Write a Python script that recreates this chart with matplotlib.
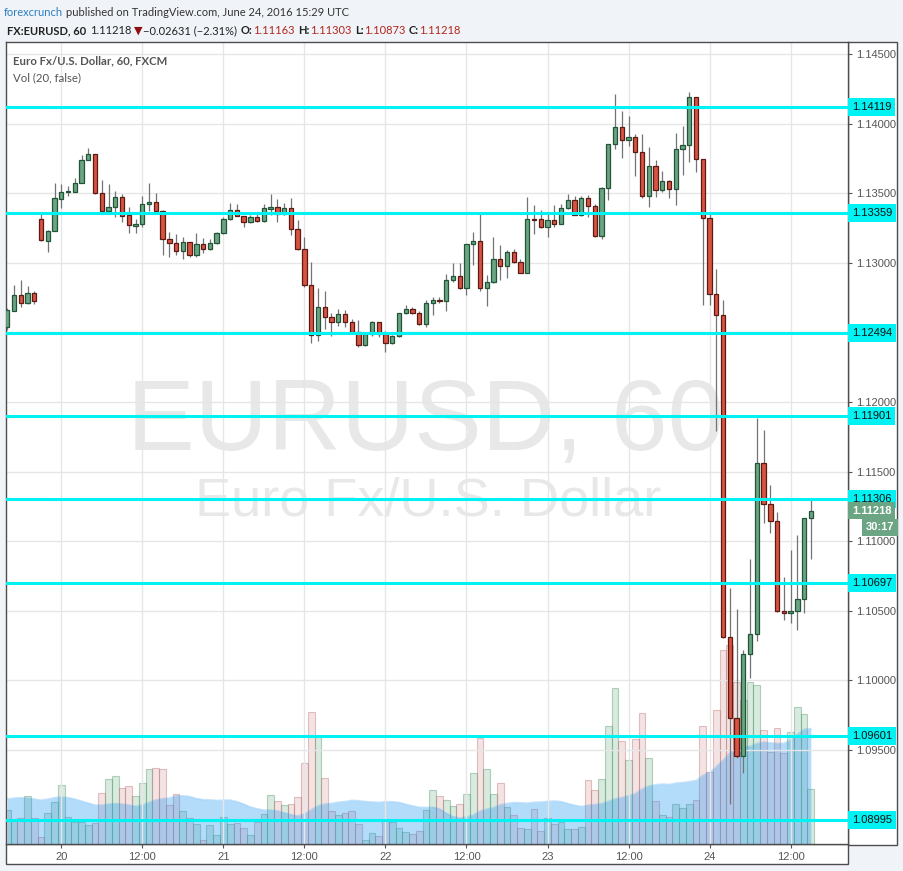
import matplotlib
matplotlib.use("Agg")
import matplotlib.pyplot as plt
import matplotlib.transforms as mtransforms
from matplotlib.patches import Rectangle
import numpy as np
import pandas as pd

# EURUSD hourly candles (FXCM), last hours of 17 Jun .. 24 Jun 2016 15:00 UTC
opens = [1.12541, 1.12656, 1.12768, 1.12713, 1.12781, 1.13312, 1.13159, 1.13226, 1.13460, 1.13506,
         1.13510, 1.13571, 1.13736, 1.13779, 1.13499, 1.13374, 1.13398, 1.13470, 1.13341, 1.13266,
         1.13277, 1.13420, 1.13435, 1.13374, 1.13168, 1.13139, 1.13082, 1.13146, 1.13054, 1.13133,
         1.13096, 1.13139, 1.13212, 1.13312, 1.13377, 1.13334, 1.13291, 1.13327, 1.13298, 1.13389,
         1.13398, 1.13348, 1.13392, 1.13240, 1.13096, 1.12838, 1.12479, 1.12679, 1.12608, 1.12577,
         1.12632, 1.12572, 1.12505, 1.12412, 1.12486, 1.12572, 1.12486, 1.12421, 1.12474, 1.12637,
         1.12666, 1.12637, 1.12562, 1.12708, 1.12730, 1.12723, 1.12874, 1.12903, 1.12817, 1.13133,
         1.13155, 1.12817, 1.12860, 1.13025, 1.12975, 1.13075, 1.13006, 1.12928, 1.13312, 1.13312,
         1.13255, 1.13305, 1.13277, 1.13392, 1.13449, 1.13341, 1.13463, 1.13406, 1.13190, 1.13535,
         1.13851, 1.13973, 1.13884, 1.13901, 1.13793, 1.13482, 1.13693, 1.13524, 1.13585, 1.13532,
         1.13815, 1.13849, 1.14189, 1.13743, 1.13319, 1.12774, 1.12623, 1.10313, 1.09729, 1.09458,
         1.10187, 1.10332, 1.11559, 1.11265, 1.11146, 1.10500, 1.10486, 1.10500, 1.10582, 1.11163]
highs = [1.12675, 1.12840, 1.12876, 1.12835, 1.12799, 1.13350, 1.13236, 1.13575, 1.13566, 1.13552,
         1.13611, 1.13774, 1.13825, 1.13782, 1.13595, 1.13566, 1.13516, 1.13494, 1.13401, 1.13317,
         1.13480, 1.13575, 1.13504, 1.13376, 1.13221, 1.13206, 1.13183, 1.13148, 1.13212, 1.13178,
         1.13168, 1.13221, 1.13327, 1.13432, 1.13421, 1.13336, 1.13341, 1.13348, 1.13421, 1.13494,
         1.13456, 1.13430, 1.13463, 1.13307, 1.13184, 1.13008, 1.12817, 1.12797, 1.12637, 1.12666,
         1.12661, 1.12596, 1.12589, 1.12505, 1.12583, 1.12574, 1.12510, 1.12481, 1.12640, 1.12695,
         1.12679, 1.12651, 1.12733, 1.12752, 1.12752, 1.12919, 1.12998, 1.12998, 1.13135, 1.13221,
         1.13350, 1.12910, 1.13184, 1.13128, 1.13089, 1.13096, 1.13029, 1.13473, 1.13416, 1.13379,
         1.13350, 1.13416, 1.13421, 1.13494, 1.13480, 1.13480, 1.13487, 1.13421, 1.13542, 1.13851,
         1.14213, 1.14090, 1.14055, 1.13925, 1.13925, 1.13832, 1.13738, 1.13657, 1.13595, 1.13935,
         1.13983, 1.14227, 1.14192, 1.13745, 1.13350, 1.12953, 1.12732, 1.10661, 1.10510, 1.10218,
         1.10870, 1.11882, 1.11798, 1.11403, 1.11209, 1.10744, 1.10936, 1.11044, 1.11169, 1.11303]
lows = [1.12517, 1.12654, 1.12684, 1.12704, 1.12704, 1.13158, 1.13080, 1.13226, 1.13393, 1.13482,
        1.13510, 1.13571, 1.13736, 1.13495, 1.13374, 1.13374, 1.13331, 1.13295, 1.13216, 1.13216,
        1.13255, 1.13374, 1.13370, 1.13058, 1.13044, 1.13054, 1.13025, 1.13044, 1.13040, 1.13068,
        1.13089, 1.13137, 1.13210, 1.13305, 1.13334, 1.13255, 1.13289, 1.13291, 1.13296, 1.13346,
        1.13291, 1.13346, 1.13202, 1.13093, 1.12828, 1.12426, 1.12435, 1.12524, 1.12477, 1.12548,
        1.12535, 1.12502, 1.12397, 1.12404, 1.12477, 1.12469, 1.12361, 1.12417, 1.12469, 1.12635,
        1.12630, 1.12555, 1.12535, 1.12623, 1.12708, 1.12656, 1.12860, 1.12809, 1.12768, 1.12983,
        1.12795, 1.12692, 1.12852, 1.12879, 1.12893, 1.12996, 1.12925, 1.12925, 1.13205, 1.13252,
        1.13183, 1.13255, 1.13275, 1.13384, 1.13340, 1.13339, 1.13327, 1.13183, 1.13168, 1.13451,
        1.13817, 1.13753, 1.13841, 1.13622, 1.13468, 1.13403, 1.13475, 1.13510, 1.13468, 1.13417,
        1.13633, 1.13726, 1.13654, 1.12699, 1.12699, 1.11793, 1.10302, 1.09111, 1.09445, 1.09334,
        1.10014, 1.10285, 1.11132, 1.11061, 1.10493, 1.10434, 1.10409, 1.10364, 1.10481, 1.10873]
closes = [1.12661, 1.12768, 1.12713, 1.12781, 1.12728, 1.13161, 1.13229, 1.13463, 1.13506, 1.13516,
          1.13571, 1.13738, 1.13779, 1.13499, 1.13374, 1.13398, 1.13470, 1.13338, 1.13269, 1.13277,
          1.13421, 1.13435, 1.13374, 1.13168, 1.13139, 1.13082, 1.13146, 1.13054, 1.13133, 1.13096,
          1.13139, 1.13212, 1.13312, 1.13377, 1.13334, 1.13291, 1.13327, 1.13298, 1.13392, 1.13398,
          1.13348, 1.13392, 1.13240, 1.13096, 1.12838, 1.12479, 1.12679, 1.12608, 1.12577, 1.12632,
          1.12572, 1.12505, 1.12412, 1.12486, 1.12572, 1.12486, 1.12421, 1.12474, 1.12637, 1.12666,
          1.12637, 1.12562, 1.12708, 1.12730, 1.12723, 1.12876, 1.12903, 1.12817, 1.13133, 1.13155,
          1.12817, 1.12860, 1.13025, 1.12975, 1.13075, 1.13006, 1.12928, 1.13312, 1.13310, 1.13255,
          1.13305, 1.13277, 1.13392, 1.13449, 1.13341, 1.13463, 1.13406, 1.13190, 1.13535, 1.13851,
          1.13973, 1.13884, 1.13901, 1.13793, 1.13482, 1.13693, 1.13524, 1.13585, 1.13532, 1.13815,
          1.13849, 1.14189, 1.13743, 1.13319, 1.12774, 1.12623, 1.10313, 1.09729, 1.09458, 1.10187,
          1.10332, 1.11559, 1.11265, 1.11146, 1.10500, 1.10486, 1.10500, 1.10582, 1.11163, 1.11218]

# tick volume (relative units)
volume = [34, 23, 26, 48, 26, 7, 31, 42, 59, 27, 22, 22, 19, 21, 51, 65, 68, 56, 58, 48,
          61, 75, 76, 75, 39, 50, 33, 26, 20, 4, 19, 9, 27, 20, 21, 16, 9, 22, 30, 49,
          43, 39, 40, 47, 81, 132, 107, 66, 33, 29, 31, 33, 20, 4, 11, 8, 23, 22, 16, 12,
          10, 13, 34, 54, 48, 44, 38, 40, 50, 71, 106, 75, 50, 61, 37, 29, 16, 15, 35, 13,
          26, 20, 22, 15, 15, 17, 64, 54, 65, 118, 156, 103, 84, 105, 131, 86, 43, 29, 27, 40,
          36, 40, 44, 118, 72, 134, 194, 199, 162, 144, 162, 159, 114, 92, 116, 91, 112, 137, 130, 55]
# Vol MA(20) for the first bars, whose history is left of the chart
vol_ma_head = [45, 46, 46.5, 46, 45, 44, 45, 46.5, 47, 46.5, 45, 43, 41, 39, 39, 40, 40.5, 40, 39]

levels = [1.14119, 1.13359, 1.12494, 1.11901, 1.11306, 1.10697, 1.09601, 1.08995]
price_ticks = [1.095, 1.100, 1.105, 1.110, 1.115, 1.120, 1.125, 1.130, 1.135, 1.140, 1.145]
hidden_ticks = [1.125]  # label covered by the 1.12494 level tag
time_ticks = [8, 20, 32, 44, 56, 68, 80, 92, 104, 116]
time_labels = ["20", "12:00", "21", "12:00", "22", "12:00", "23", "12:00", "24", "12:00"]
last_price = 1.11218
countdown = "30:17"

W, H = 904, 871
fig = plt.figure(figsize=(W / 100, H / 100), dpi=100, facecolor="#f0f3f7")


def fig_rect(x0, y0, x1, y1):
    return [x0 / W, 1 - y1 / H, (x1 - x0) / W, (y1 - y0) / H]


frame = "#4d4d4d"
for r in [fig_rect(848, 42, 897, 845), fig_rect(6, 844, 848, 864)]:
    fig.add_artist(Rectangle((r[0], r[1]), r[2], r[3], transform=fig.transFigure,
                             facecolor="white", edgecolor=frame, lw=1, zorder=-5))

rect = fig_rect(6, 42, 848, 844)
ax_vol = fig.add_axes(rect)
ax = fig.add_axes(rect, sharex=ax_vol)
ax.patch.set_visible(False)

x = np.arange(len(opens))
o = np.array(opens)
h = np.array(highs)
l = np.array(lows)
c = np.array(closes)
v = np.array(volume, dtype=float)
up = c >= o

# volume pane
ma = pd.Series(v).rolling(20).mean().to_numpy()
ma[:len(vol_ma_head)] = vol_ma_head
ax_vol.bar(x[up], v[up], width=1.0, color=(0.42, 0.68, 0.50, 0.25),
           edgecolor=(0.30, 0.58, 0.40, 0.40), lw=0.8)
ax_vol.bar(x[~up], v[~up], width=1.0, color=(0.82, 0.55, 0.55, 0.24),
           edgecolor=(0.72, 0.42, 0.42, 0.40), lw=0.8)
ax_vol.fill_between(x, 0, ma, color="#2196f3", alpha=0.34, lw=0)
ax_vol.plot(x, ma, color="#2196f3", alpha=0.25, lw=1)
ax_vol.set_ylim(0, 802)
ax_vol.set_facecolor("white")
ax_vol.set_yticks([])
ax_vol.tick_params(axis="x", bottom=False, labelbottom=False)
for s in ax_vol.spines.values():
    s.set_visible(False)

# watermark
ax_vol.text(0.498, 0.491, "EURUSD, 60", transform=ax_vol.transAxes, ha="center", va="baseline",
            fontsize=73, color="#e8e8e8", family="Liberation Sans", zorder=0)
ax_vol.text(0.501, 0.410, "Euro Fx/U.S. Dollar", transform=ax_vol.transAxes, ha="center",
            va="baseline", fontsize=39, color="#e8e8e8", family="Liberation Sans", zorder=0)

# candles
ax.vlines(x, l, h, color="#737375", lw=0.9, zorder=3)
body = np.maximum(np.abs(c - o), 0.00002)
bottom = np.minimum(o, c)
ax.bar(x[up], body[up], bottom=bottom[up], width=0.64, color="#6ba583",
       edgecolor="#225437", lw=0.9, zorder=4)
ax.bar(x[~up], body[~up], bottom=bottom[~up], width=0.64, color="#d75442",
       edgecolor="#5b1a13", lw=0.9, zorder=4)

ax.set_xlim(-0.19, 124.5)
ax.set_ylim(1.08824, 1.14586)
ax.set_yticks(price_ticks, ["" if t in hidden_ticks else f"{t:.5f}" for t in price_ticks])
ax.set_xticks(time_ticks, time_labels)
ax.yaxis.tick_right()
ax.grid(True, color="#e6e6e6", lw=1)
ax.tick_params(axis="y", length=3, pad=2.5, labelsize=8, colors="#555555")
ax.tick_params(axis="x", length=3, pad=2.5, labelsize=8, colors="#555555")
for lab in ax.get_xticklabels() + ax.get_yticklabels():
    lab.set_family("Liberation Sans")
for s in ax.spines.values():
    s.set_color(frame)
    s.set_linewidth(1)

# horizontal levels
blend = mtransforms.blended_transform_factory(ax.transAxes, ax.transData)
for lvl in levels:
    ax.axhline(lvl, color="#00f2f2", lw=2.2, zorder=6)
    ax.text(1.0048, lvl, f"{lvl:.5f}", transform=blend, ha="left", va="center", fontsize=8,
            color="#111111", family="Liberation Sans", zorder=7,
            bbox=dict(boxstyle="square,pad=0.36", fc="#00f2f2", ec="none"))

ax.text(1.0048, last_price, f"{last_price:.5f}", transform=blend, ha="left", va="center",
        fontsize=8, color="white", fontweight="bold", family="Liberation Sans", zorder=8,
        bbox=dict(boxstyle="square,pad=0.32", fc="#6ba583", ec="none"))
ax.annotate(countdown, xy=(1.0546, last_price), xycoords=blend, xytext=(0, -12),
            textcoords="offset points", ha="right", va="center", fontsize=8, color="white",
            fontweight="bold", family="Liberation Sans", zorder=8,
            bbox=dict(boxstyle="square,pad=0.32", fc="#6ba583", ec="none"))

# header lines
renderer = fig.canvas.get_renderer()


def write_line(x_px, y_px, parts, size):
    xp = x_px
    for text, color, weight, gap in parts:
        t = fig.text(xp / W, 1 - y_px / H, text, color=color, fontweight=weight, fontsize=size,
                     family=["Lato", "DejaVu Sans"], va="center", ha="left")
        xp += t.get_window_extent(renderer).width + gap


red = "#b3261e"
dark = "#222222"
write_line(3.5, 12.5, [("forexcrunch", "#2a7fc1", "normal", 3),
                       ("published on TradingView.com, June 24, 2016 15:29 UTC", "#333333", "normal", 0)], 8.0)
write_line(7, 30.5, [("FX:EURUSD, 60", dark, "bold", 4), ("1.11218", dark, "normal", 2),
                     ("\u25bc", "#8f1010", "normal", 1), ("\u22120.02631 (\u22122.31%)", dark, "normal", 4),
                     ("O:", dark, "bold", 0), ("1.11163", red, "normal", 4),
                     ("H:", dark, "bold", 0), ("1.11303", red, "normal", 4),
                     ("L:", dark, "bold", 0), ("1.10873", red, "normal", 4),
                     ("C:", dark, "bold", 0), ("1.11218", red, "normal", 0)], 8.0)
write_line(13.5, 61, [("Euro Fx/U.S. Dollar, 60, FXCM", "#555555", "bold", 0)], 8.2)
write_line(13.5, 78, [("Vol (20, false)", "#555555", "normal", 0)], 8.2)

fig.savefig("out.png", dpi=100, facecolor=fig.get_facecolor())
